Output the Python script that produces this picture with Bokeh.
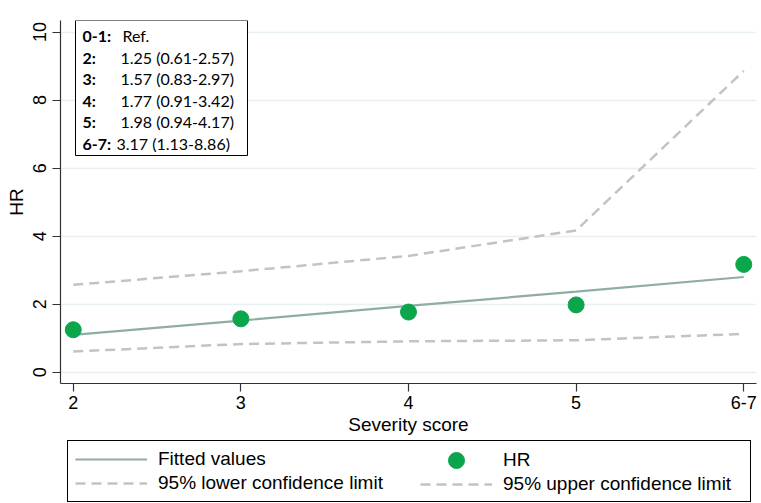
from bokeh.plotting import figure
from bokeh.layouts import column
from bokeh.models import Range1d, FixedTicker, Legend, LegendItem, Label, BoxAnnotation
from bokeh.embed import file_html
from bokeh.resources import INLINE

# ---- data ----
severity = ["2", "3", "4", "5", "6-7"]
xpos = [2, 3, 4, 5, 6]
hr = [1.25, 1.57, 1.77, 1.98, 3.17]
lower = [0.61, 0.83, 0.91, 0.94, 1.13]
upper = [2.57, 2.97, 3.42, 4.17, 8.86]
fitted = [1.10, 1.52, 1.95, 2.37, 2.80]
ref_group = "0-1:"
ref_text = "Ref."
y_ticks = [0, 2, 4, 6, 8, 10]

FONT = "Liberation Sans"
BOX_FONT = "Lato"

UP_STYLE = dict(line_color="#c3c3c3", line_width=2.5, line_dash="10 6")
FIT_STYLE = dict(line_color="#8fada5", line_width=2.2)
HR_STYLE = dict(size=16, fill_color="#0ba64b", line_color="#0ba64b")

p = figure(width=758, height=440, output_backend="svg", toolbar_location=None,
           x_range=Range1d(1.924, 6.076), y_range=Range1d(-0.33, 10.34),
           min_border_left=60, min_border_top=20, min_border_right=2, min_border_bottom=57)
p.outline_line_color = None
p.background_fill_color = "white"

# grid
p.xgrid.visible = False
p.ygrid.ticker = FixedTicker(ticks=y_ticks)
p.ygrid.grid_line_color = "#e8f0f1"
p.ygrid.grid_line_width = 1.5

# axes
for ax in (p.xaxis[0], p.yaxis[0]):
    ax.axis_line_color = "#333333"
    ax.axis_line_width = 1.2
    ax.major_tick_line_color = "#333333"
    ax.major_tick_line_width = 1.2
    ax.major_tick_out = 8
    ax.major_tick_in = 0
    ax.minor_tick_line_color = None
    ax.major_label_text_font = FONT
    ax.major_label_text_font_size = "18px"
    ax.major_label_text_color = "black"
    ax.axis_label_text_font = FONT
    ax.axis_label_text_font_size = "19px"
    ax.axis_label_text_font_style = "normal"
    ax.axis_label_text_color = "black"

p.xaxis.ticker = FixedTicker(ticks=xpos)
p.xaxis.major_label_overrides = {x: s for x, s in zip(xpos, severity)}
p.xaxis.axis_label = "Severity score"
p.xaxis.major_label_standoff = 4
p.xaxis.axis_label_standoff = 2

p.yaxis.ticker = FixedTicker(ticks=y_ticks)
p.yaxis.axis_label = "HR"
p.yaxis.major_label_orientation = "vertical"
p.yaxis.major_label_standoff = 6
p.yaxis.axis_label_standoff = 4

# glyphs
p.line(xpos, upper, **UP_STYLE)
p.line(xpos, lower, **UP_STYLE)
p.line(xpos, fitted, **FIT_STYLE)
p.scatter(xpos, hr, **HR_STYLE)

# annotation box with estimates
box = BoxAnnotation(left=15, right=187, bottom=228, top=363,
                    left_units="screen", right_units="screen",
                    bottom_units="screen", top_units="screen",
                    fill_color="white", fill_alpha=1,
                    line_color="black", line_width=1, line_alpha=1)
p.add_layout(box)

groups = [ref_group] + [s + ":" for s in severity]
texts = [ref_text] + [f"{h:.2f} ({l:.2f}-{u:.2f})" for h, l, u in zip(hr, lower, upper)]
row_y = [348, 326.4, 304.8, 283.2, 261.6, 240]
val_x = [62, 60, 60, 60, 60, 56]
for g, t, yy, vx in zip(groups, texts, row_y, val_x):
    p.add_layout(Label(x=22, y=yy, x_units="screen", y_units="screen", text=g,
                       text_font=BOX_FONT, text_font_size="16px", text_font_style="bold",
                       text_baseline="middle", text_color="black"))
    p.add_layout(Label(x=vx, y=yy, x_units="screen", y_units="screen", text=t,
                       text_font=BOX_FONT, text_font_size="16px",
                       text_baseline="middle", text_color="black"))

# ---- legend strip (separate canvas below the chart, no axes) ----
lg = figure(width=758, height=63, output_backend="svg", toolbar_location=None,
            x_range=Range1d(0, 1), y_range=Range1d(0, 1),
            x_axis_location=None, y_axis_location=None,
            min_border_left=0, min_border_right=0, min_border_top=0, min_border_bottom=0)
lg.grid.visible = False
lg.outline_line_color = None
# same series drawn outside this strip's visible range, used only as legend keys
lr_up = lg.line(xpos, upper, **UP_STYLE)
lr_lo = lg.line(xpos, lower, **UP_STYLE)
lr_fit = lg.line(xpos, fitted, **FIT_STYLE)
lr_hr = lg.scatter(xpos, hr, **HR_STYLE)

common = dict(orientation="vertical", glyph_width=72, label_standoff=11,
              label_height=20, margin=0,
              label_text_font=FONT, label_text_font_size="19px", label_text_color="black")

# left column, carrying the frame of the whole legend
leg1 = Legend(items=[
    LegendItem(label="Fitted values", renderers=[lr_fit]),
    LegendItem(label="95% lower confidence limit", renderers=[lr_lo]),
], location=(7, 1), label_width=585, glyph_height=20, spacing=2, padding=7,
    border_line_color="black", border_line_width=1, border_line_alpha=1,
    background_fill_color="white", background_fill_alpha=1, **common)
# right column entries (borderless)
leg_hr = Legend(items=[LegendItem(label="HR", renderers=[lr_hr])],
                location=(360, 23), label_width=20, glyph_height=40, spacing=0,
                border_line_color=None, background_fill_alpha=0, **common)
leg_up = Legend(items=[LegendItem(label="95% upper confidence limit", renderers=[lr_up])],
                location=(360, 8), label_width=20, glyph_height=20, spacing=0,
                border_line_color=None, background_fill_alpha=0, **common)
lg.add_layout(leg1)
lg.add_layout(leg_hr)
lg.add_layout(leg_up)

open("out.html", "w").write(file_html(column(p, lg, spacing=0), INLINE))
